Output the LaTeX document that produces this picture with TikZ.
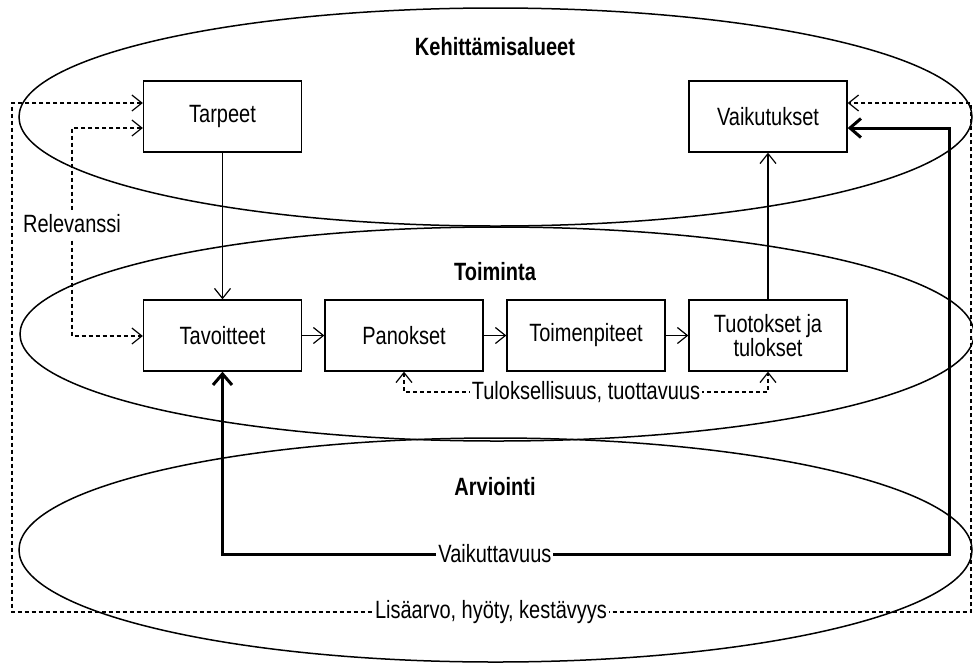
\documentclass[tikz,border=0pt]{standalone}
\usepackage{fontspec}
\setmainfont{Liberation Sans}[FakeStretch=0.8]
\usetikzlibrary{arrows.meta}
\tikzset{
  box/.style={draw=black, line width=1.3pt, fill=white, minimum width=158pt, minimum height=71pt, inner sep=0pt, align=center},
  ttl/.style={font=\fontsize{25}{22}\selectfont\bfseries, anchor=base},
  lbl/.style={fill=white, inner xsep=2pt, inner ysep=5pt},
  oval/.style={line width=1.5pt},
  thinarrow/.style={line width=1.2pt, -{Straight Barb[length=10pt,width=16pt]}},
  dashline/.style={line width=1.2pt, dash pattern=on 4pt off 3pt},
  tip/.tip={Straight Barb[length=10pt,width=16pt,line width=1.2pt]},
  bigtip/.tip={Straight Barb[length=11pt,width=19pt,line width=3pt]},
  thickline/.style={line width=3pt}
}
\begin{document}
\begin{tikzpicture}[x=1pt,y=-1pt,font=\fontsize{25}{22}\selectfont]
\useasboundingbox (0,0) rectangle (973,662);
% ellipses
\draw[oval] (495.5,117) ellipse [x radius=476.5pt, y radius=109pt];
\draw[oval] (497,334) ellipse [x radius=477pt, y radius=107pt];
\draw[oval] (495.5,550) ellipse [x radius=476.5pt, y radius=112pt];
% titles
\node[ttl] (t1) at (495,55) {Kehittämisalueet};
\node[ttl] (t2) at (495,280) {Toiminta};
\node[ttl] (t3) at (495,495) {Arviointi};
% boxes
\node[box] (tarpeet) at (222.5,116.5) {Tarpeet};
\node[box] (vaikutukset) at (768,116.5) {Vaikutukset};
\node[box] (tavoitteet) at (222.5,335.5) {Tavoitteet};
\node[box] (panokset) at (404,335.5) {Panokset};
\node[box] (toimenpiteet) at (586,335.5) {Toimenpiteet};
\node[box] (tuotokset) at (768,335.5) {Tuotokset ja\\tulokset};
% solid arrows
\draw[thinarrow] (tarpeet) -- (tavoitteet);
\draw[thinarrow] (tavoitteet) -- (panokset);
\draw[thinarrow] (panokset) -- (toimenpiteet);
\draw[thinarrow] (toimenpiteet) -- (tuotokset);
\draw[thinarrow] (tuotokset) -- (vaikutukset);
% coordinates
\coordinate (oL1) at (12,103);
\coordinate (oL2) at (12,612);
\coordinate (oR2) at (971,612);
\coordinate (oR1) at (971,103);
\coordinate (rA) at (72,128);
\coordinate (rB) at (72,336);
\coordinate (tA) at (0,392);
\coordinate (vA) at (0,554);
\coordinate (vB) at (949,554);
\coordinate (vC) at (0,128);
% outer dashed
\draw[dashline, {tip}-{tip}] (oL1 -| tarpeet.west) -- (oL1) -- (oL2)
  -- node[lbl, pos=0.4995] (lisa) {Lisäarvo, hyöty, kestävyys} (oR2) -- (oR1) -- (oR1 -| vaikutukset.east);
% relevanssi
\draw[dashline, {tip}-{tip}] (rA -| tarpeet.west) -- (rA)
  -- node[lbl, pos=0.46] (rel) {Relevanssi} (rB) -- (rB -| tavoitteet.west);
% tuloksellisuus
\draw[dashline, {tip}-{tip}] (panokset.south) -- (panokset.south |- tA)
  -- node[lbl, pos=0.5] (tul) {Tuloksellisuus, tuottavuus} (tuotokset.south |- tA) -- (tuotokset.south);
% vaikuttavuus
\draw[thickline, {bigtip}-{bigtip}] (tavoitteet.south) -- (tavoitteet.south |- vA)
  -- node[lbl, pos=0.375] (vai) {Vaikuttavuus} (vB) -- (vB |- vC) -- (vC -| vaikutukset.east);
\end{tikzpicture}
\end{document}
